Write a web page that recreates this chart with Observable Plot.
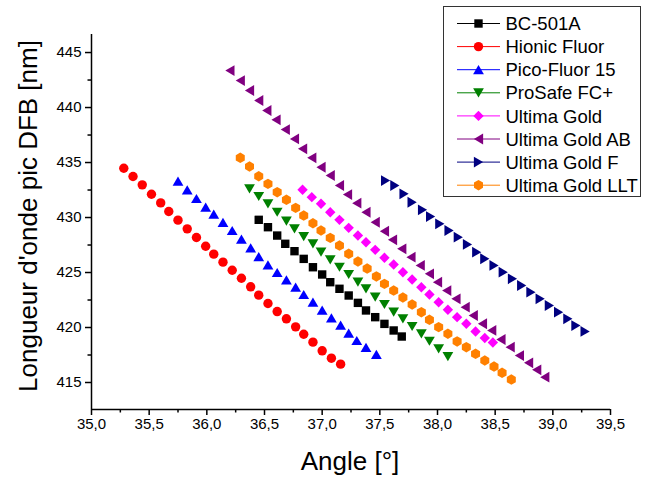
<!DOCTYPE html>
<html><head><meta charset="utf-8">
<script src="https://cdn.jsdelivr.net/npm/d3@7"></script>
<script src="https://cdn.jsdelivr.net/npm/@observablehq/plot@0.6"></script>
<style>body{margin:0;background:#fff}#chart{width:646px;height:480px}</style>
</head><body><div id="chart"></div>
<script>
// ---------- data ----------
const seriesNames = ["BC-501A","Hionic Fluor","Pico-Fluor 15","ProSafe FC+","Ultima Gold","Ultima Gold AB","Ultima Gold F","Ultima Gold LLT"];

const bc501aAngle = [36.45,36.53,36.61,36.68,36.76,36.84,36.92,37.00,37.07,37.15,37.23,37.31,37.38,37.46,37.54,37.62,37.69];
const bc501aNm    = [429.79,429.12,428.36,427.61,426.94,426.24,425.48,424.82,424.12,423.52,422.91,422.24,421.55,420.94,420.33,419.73,419.18];

const hionicAngle = [35.28,35.36,35.44,35.52,35.60,35.67,35.75,35.83,35.91,35.99,36.06,36.14,36.22,36.30,36.38,36.45,36.53,36.61,36.69,36.77,36.84,36.92,37.00,37.08,37.16];
const hionicNm    = [434.48,433.73,432.97,432.12,431.33,430.55,429.76,428.97,428.18,427.39,426.67,425.94,425.21,424.48,423.70,422.94,422.18,421.45,420.79,420.06,419.39,418.67,417.88,417.21,416.67];

const picoAngle = [35.75,35.83,35.91,35.99,36.06,36.14,36.22,36.30,36.38,36.45,36.53,36.61,36.69,36.77,36.84,36.92,37.00,37.08,37.16,37.23,37.30,37.38,37.47];
const picoNm    = [433.30,432.52,431.73,430.94,430.30,429.55,428.82,428.03,427.24,426.45,425.70,425.00,424.33,423.67,423.00,422.30,421.58,420.88,420.21,419.48,418.82,418.20,417.55];

const prosafeAngle = [36.37,36.45,36.53,36.61,36.69,36.76,36.84,36.92,36.99,37.07,37.15,37.23,37.31,37.38,37.46,37.54,37.62,37.70,37.78,37.86,37.93,38.01,38.09];
const prosafeNm    = [432.61,431.91,431.24,430.48,429.67,428.97,428.27,427.61,426.85,426.15,425.48,424.82,424.12,423.52,422.76,422.09,421.39,420.79,420.09,419.42,418.75,418.06,417.36];

const ugAngle = [36.83,36.91,36.99,37.07,37.15,37.23,37.31,37.38,37.46,37.54,37.62,37.70,37.78,37.86,37.93,38.01,38.09,38.17,38.25,38.33,38.41,38.48];
const ugNm    = [432.52,431.85,431.25,430.48,429.79,429.06,428.36,427.75,427.06,426.34,425.73,425.03,424.36,423.66,423.00,422.30,421.61,420.94,420.34,419.64,419.05,418.64];

const ugAbAngle = [36.20,36.29,36.37,36.45,36.52,36.60,36.68,36.76,36.83,36.91,36.99,37.07,37.15,37.22,37.30,37.38,37.46,37.54,37.61,37.69,37.77,37.85,37.93,38.00,38.08,38.16,38.24,38.31,38.39,38.47,38.55,38.63,38.71,38.79,38.86,38.93];
const ugAbNm    = [443.36,442.45,441.55,440.64,439.73,438.88,438.00,437.15,436.25,435.43,434.57,433.82,432.91,432.09,431.30,430.48,429.57,428.75,427.97,427.15,426.39,425.64,424.88,424.12,423.36,422.61,421.85,421.09,420.34,419.73,418.91,418.21,417.45,416.79,416.15,415.48];

const ugFAngle = [37.55,37.63,37.71,37.78,37.87,37.94,38.02,38.10,38.18,38.26,38.34,38.41,38.49,38.57,38.65,38.73,38.81,38.89,38.97,39.05,39.13,39.20,39.28];
const ugFNm    = [433.36,432.91,432.15,431.39,430.70,430.09,429.43,428.82,428.21,427.55,426.85,426.25,425.64,425.03,424.43,423.82,423.21,422.61,422.00,421.39,420.79,420.18,419.64];

const ugLltAngle = [36.29,36.37,36.45,36.53,36.61,36.69,36.77,36.84,36.92,36.99,37.07,37.15,37.23,37.31,37.39,37.47,37.54,37.62,37.70,37.78,37.86,37.93,38.01,38.09,38.17,38.25,38.33,38.41,38.49,38.56,38.64];
const ugLltNm    = [435.43,434.64,433.75,433.06,432.30,431.61,430.88,430.18,429.48,428.82,428.15,427.45,426.70,426.00,425.36,424.64,423.97,423.36,422.73,422.09,421.39,420.70,420.03,419.43,418.73,418.21,417.61,417.00,416.45,415.88,415.27];

const xTicks = [35,35.5,36,36.5,37,37.5,38,38.5,39,39.5];
const xMinorTicks = [35.25,35.75,36.25,36.75,37.25,37.75,38.25,38.75,39.25];
const yTicks = [415,420,425,430,435,440,445];
const yMinorTicks = [417.5,422.5,427.5,432.5,437.5,442.5];

const xLabel = "Angle [°]";
const yLabel = "Longueur d'onde pic DFB [nm]";

// ---------- styles ----------
const colors = ["#000000","#FF0000","#0000FF","#008000","#FF00FF","#800080","#000080","#FF8000"];
const FONT = "'Liberation Sans', Arial, Helvetica, sans-serif";

const symbols = [
  {draw(c){ const h=4.2; c.rect(-h,-h,2*h,2*h); }},
  {draw(c){ const r=4.7; c.moveTo(r,0); c.arc(0,0,r,0,2*Math.PI); }},
  {draw(c){ c.moveTo(0,-4.6); c.lineTo(5.4,4.6); c.lineTo(-5.4,4.6); c.closePath(); }},
  {draw(c){ c.moveTo(0,4.6); c.lineTo(5.4,-4.6); c.lineTo(-5.4,-4.6); c.closePath(); }},
  {draw(c){ const h=5.2; c.moveTo(0,-h); c.lineTo(h,0); c.lineTo(0,h); c.lineTo(-h,0); c.closePath(); }},
  {draw(c){ c.moveTo(-4.6,0); c.lineTo(4.6,-5.4); c.lineTo(4.6,5.4); c.closePath(); }},
  {draw(c){ c.moveTo(4.6,0); c.lineTo(-4.6,-5.4); c.lineTo(-4.6,5.4); c.closePath(); }},
  {draw(c){ const r=5.2; for(let i=0;i<6;i++){ const a=Math.PI/6+i*Math.PI/3; const px=r*Math.cos(a), py=r*Math.sin(a); i?c.lineTo(px,py):c.moveTo(px,py);} c.closePath(); }}
];

const seriesData = [
  [bc501aAngle,bc501aNm],[hionicAngle,hionicNm],[picoAngle,picoNm],[prosafeAngle,prosafeNm],
  [ugAngle,ugNm],[ugAbAngle,ugAbNm],[ugFAngle,ugFNm],[ugLltAngle,ugLltNm]
];
const table = seriesData.map(([a,n]) => a.map((v,i) => ({angle:v, nm:n[i]})));

const yDomain = [412.545, 446.64];
const fmtX = d => d.toFixed(1).replace(".", ",");

const dots = table.map((rows,i) => Plot.dot(rows, {x:"angle", y:"nm", r:1, symbol:symbols[i], fill:colors[i], stroke:"none"}));

const svg = Plot.plot({
  width: 646, height: 480,
  marginLeft: 91, marginRight: 36, marginTop: 34, marginBottom: 71,
  style: {fontFamily: FONT, background: "#fff", color: "#000"},
  x: {domain: [35, 39.5]},
  y: {domain: yDomain},
  marks: [
    Plot.axisX({ticks: xTicks, tickSize: 6, tickPadding: 3, tickFormat: fmtX, fontSize: 15, strokeWidth: 1.5, label: null}),
    Plot.axisX({ticks: xMinorTicks, tickSize: 3.5, tickFormat: () => "", strokeWidth: 1.5, label: null}),
    Plot.axisY({ticks: yTicks, tickSize: 6, tickPadding: 4, tickFormat: d => String(d), fontSize: 15, strokeWidth: 1.5, label: null}),
    Plot.axisY({ticks: yMinorTicks, tickSize: 3.5, tickFormat: () => "", strokeWidth: 1.5, label: null}),
    Plot.ruleX([35], {strokeWidth: 1.5}),
    Plot.ruleY([yDomain[0]], {strokeWidth: 1.5}),
    ...dots
  ]
});
document.getElementById("chart").appendChild(svg);

const s = d3.select(svg);
// axis titles
s.append("text").attr("x", 350).attr("y", 470).attr("text-anchor","middle")
  .attr("font-family", FONT).attr("font-size", 26).attr("fill","#000").text(xLabel);
s.append("text").attr("transform","translate(37,216) rotate(-90)").attr("text-anchor","middle")
  .attr("font-family", FONT).attr("font-size", 26).attr("fill","#000").text(yLabel);

// legend
const lg = s.append("g");
lg.append("rect").attr("x",443.5).attr("y",6.5).attr("width",197).attr("height",190)
  .attr("fill","#fff").attr("stroke","#333").attr("stroke-width",1);
seriesNames.forEach((name,i) => {
  const cy = 23.5 + i*23.1;
  lg.append("line").attr("x1",457).attr("x2",500).attr("y1",cy).attr("y2",cy)
    .attr("stroke",colors[i]).attr("stroke-width",1);
  lg.append("path").attr("d", d3.symbol(symbols[i])()).attr("transform",`translate(478.5,${cy})`).attr("fill",colors[i]);
  lg.append("text").attr("x",505.5).attr("y",cy).attr("dy","0.36em").attr("text-anchor","start")
    .attr("font-family",FONT).attr("font-size",18.5).attr("fill","#000").text(name);
});
</script>
</body></html>
